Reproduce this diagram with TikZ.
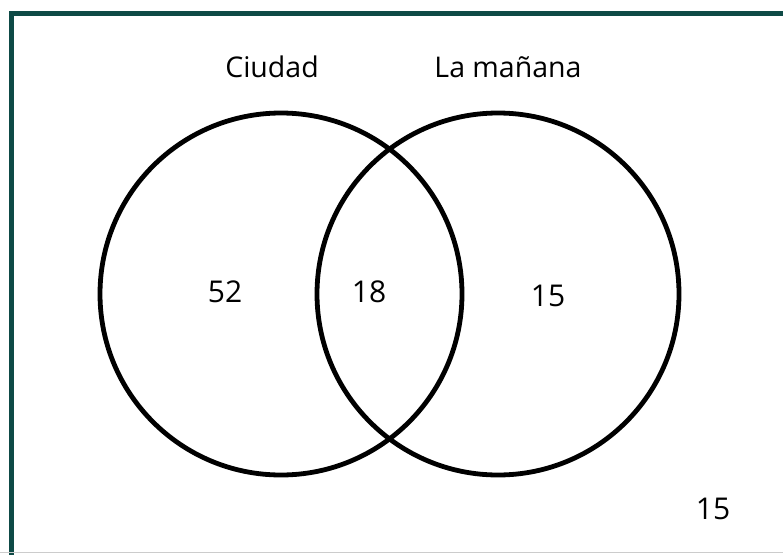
\documentclass[tikz,border=0pt]{standalone}
\usepackage{fontspec}
\setmainfont{Open Sans}
\definecolor{frameteal}{RGB}{14,74,70}

\begin{document}
\begin{tikzpicture}[
        x=1pt, y=-1pt,
        set/.style={draw, circle, line width=4.8pt, minimum size=362pt, inner sep=0pt},
        label/.style={font=\fontsize{28.5}{31}\selectfont, inner sep=0pt},
        number/.style={font=\fontsize{30}{33}\selectfont, inner sep=0pt}
    ]
        \useasboundingbox (0,0) rectangle (783,554);
        \clip (0,0) rectangle (783,554);
        \draw[frameteal, line width=5.5pt] (11.5,13.5) rectangle (800,570);
        \draw[gray!40, line width=1pt] (0,552.5) -- (783,552.5);
        
        \node[set] (ciudad) at (281,294) {};
        \node[set] (manana) at (498,294) {};
        
        \node[label] (lciudad) at (272,67) {Ciudad};
        \node[label] (lmanana) at (508,67) {La mañana};
        
        \node[number] (only1) at (225,292) {52};
        \node[number] (both) at (369,292) {18};
        \node[number] (only2) at (548,296) {15};
        \node[number] (none) at (713,509) {15};
    \end{tikzpicture}
\end{document}
